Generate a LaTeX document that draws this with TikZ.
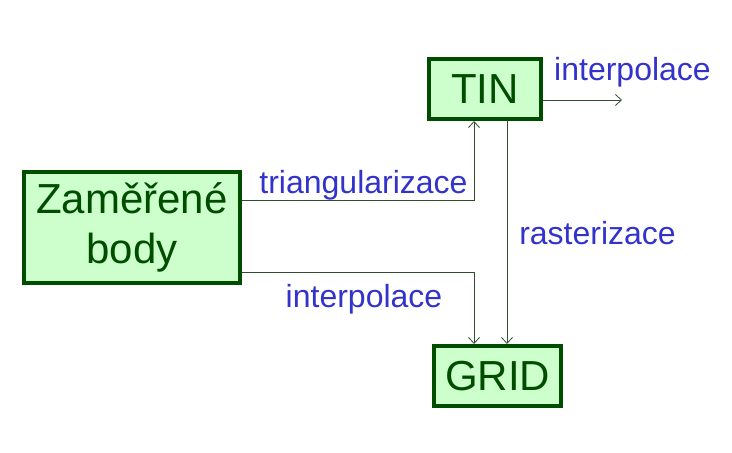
\documentclass[tikz,border=0pt]{standalone}
\usepackage{fontspec}
\setmainfont{Liberation Sans}
\usetikzlibrary{arrows.meta}
\definecolor{boxfill}{HTML}{CCFFCC}
\definecolor{boxdraw}{HTML}{004D00}
\definecolor{lblblue}{HTML}{3333CC}
\definecolor{conncol}{HTML}{2F4F2F}
\begin{document}
\begin{tikzpicture}[x=1pt,y=1pt,
  gbox/.style={draw=boxdraw,fill=boxfill,line width=4pt,text=boxdraw,
    font=\fontsize{42}{50}\selectfont,inner sep=0pt,align=center},
  lbl/.style={text=lblblue,font=\fontsize{32}{36}\selectfont,inner sep=0pt},
  conn/.style={draw=conncol,line width=0.8pt,-{Straight Barb[length=6pt,width=11pt]}}]
\useasboundingbox (0,0) rectangle (732,453);
\node[gbox,minimum width=216pt,minimum height=111pt] (zam) at (132,225.5) {Zaměřené\\body};
\node[gbox,minimum width=112pt,minimum height=60pt] (tin) at (485,364) {TIN};
\node[gbox,minimum width=127pt,minimum height=60pt] (grid) at (497.5,77) {GRID};
\coordinate (tinout) at (622,353);
\draw[conn] ([yshift=27.5pt]zam.east) -| ([xshift=-11pt]tin.south);
\draw[conn] ([yshift=-44.5pt]zam.east) -| ([xshift=-23.5pt]grid.north);
\draw[conn] ([xshift=22pt]tin.south) -- ([xshift=22pt]tin.south |- grid.north);
\draw[conn] ([yshift=-11pt]tin.east) -- (tinout);
\node[lbl] (l1) at (632.5,381) {interpolace};
\node[lbl] (l2) at (363.5,268) {triangularizace};
\node[lbl] (l3) at (597.5,220) {rasterizace};
\node[lbl] (l4) at (364,154) {interpolace};
\end{tikzpicture}
\end{document}
